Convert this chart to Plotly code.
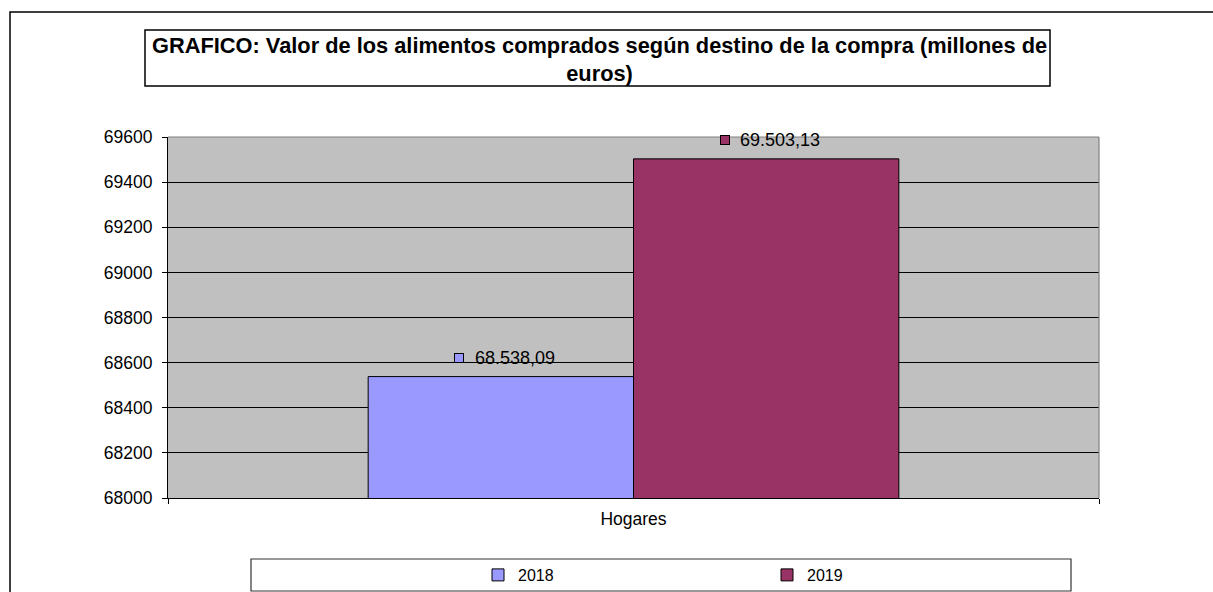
import plotly.graph_objects as go

# ---- data ----
categories = ["Hogares"]
years = ["2018", "2019"]
values_2018 = [68538.09]
values_2019 = [69503.13]
series_values = [values_2018, values_2019]
colors = ["#9999FF", "#993366"]
y_range = [68000, 69600]
y_dtick = 200
title_text = ("GRAFICO: Valor de los alimentos comprados según destino de la compra (millones de"
              "<br>euros)")

FONT = "Liberation Sans, Arial, sans-serif"
W, H = 1213, 592
ML, MR, MT, MB = 168, 114, 137, 94
PW, PH = W - ML - MR, H - MT - MB
bargap = 0.43


def px_x(p):
    return (p - ML) / PW


def px_y(p):
    return (H - MB - p) / PH


def es_fmt(v):
    s = f"{v:,.2f}"
    return s.replace(",", "X").replace(".", ",").replace("X", ".")


fig = go.Figure()
for name, vals, col in zip(years, series_values, colors):
    fig.add_trace(go.Bar(
        x=categories, y=vals, name=name,
        marker=dict(color=col, line=dict(color="#000000", width=1)),
        hoverinfo="skip",
    ))

annotations = []
shapes = []
# data labels with legend key
n = len(years)
slot = (1 - bargap) / n
for i, (vals, col) in enumerate(zip(series_values, colors)):
    for j, v in enumerate(vals):
        xc = j - (1 - bargap) / 2 + slot * (i + 0.5)
        annotations.append(dict(
            x=xc, y=v, xref="x", yref="y", text=" ", showarrow=False,
            xanchor="center", yanchor="middle", xshift=-41.5, yshift=18.5,
            width=8, height=8, borderpad=0, borderwidth=1,
            bordercolor="#000000", bgcolor=col, font=dict(size=6),
        ))
        annotations.append(dict(
            x=xc, y=v, xref="x", yref="y", text=es_fmt(v), showarrow=False,
            xanchor="left", yanchor="middle", xshift=-28, yshift=18.5,
            font=dict(family=FONT, size=18, color="#000000"),
        ))

# title
annotations.append(dict(
    x=px_x(599), y=px_y(59.5), xref="paper", yref="paper",
    text="<b>" + title_text + "</b>", showarrow=False,
    xanchor="center", yanchor="middle", align="center",
    font=dict(family=FONT, size=21.8, color="#000000"),
))

# outer chart border
shapes.append(dict(type="rect", xref="paper", yref="paper",
                   x0=px_x(10), x1=px_x(1230), y0=px_y(12), y1=px_y(620),
                   line=dict(color="#000000", width=1.5), layer="below"))
# title box
shapes.append(dict(type="rect", xref="paper", yref="paper",
                   x0=px_x(145), x1=px_x(1050), y0=px_y(30), y1=px_y(86),
                   line=dict(color="#000000", width=1.5), layer="below"))
# legend box
shapes.append(dict(type="rect", xref="paper", yref="paper",
                   x0=px_x(251), x1=px_x(1071), y0=px_y(559), y1=px_y(591),
                   line=dict(color="#333333", width=1.2), layer="below"))
# plot area top/right border (gray)
shapes.append(dict(type="line", xref="paper", yref="paper",
                   x0=0, x1=1, y0=1, y1=1,
                   line=dict(color="#808080", width=1.2), layer="above"))
shapes.append(dict(type="line", xref="paper", yref="paper",
                   x0=1, x1=1, y0=0, y1=1,
                   line=dict(color="#808080", width=1.2), layer="above"))

fig.update_layout(
    width=W, height=H, autosize=False,
    margin=dict(l=ML, r=MR, t=MT, b=MB, autoexpand=False),
    paper_bgcolor="#FFFFFF", plot_bgcolor="#C0C0C0",
    barmode="group", bargap=bargap, bargroupgap=0,
    font=dict(family=FONT, color="#000000"),
    showlegend=True,
    legend=dict(orientation="h", x=px_x(478), y=px_y(575),
                xanchor="left", yanchor="middle",
                bgcolor="rgba(0,0,0,0)", borderwidth=0,
                font=dict(family=FONT, size=16, color="#000000"),
                entrywidth=244, entrywidthmode="pixels",
                traceorder="normal"),
    annotations=annotations, shapes=shapes,
    xaxis=dict(type="category", showline=True, linecolor="#000000", linewidth=1.2,
               ticks="outside", tickson="boundaries", ticklen=5, tickcolor="#000000",
               showgrid=False, tickfont=dict(family=FONT, size=17.5, color="#000000"),
               ticklabelstandoff=5, fixedrange=True),
    yaxis=dict(range=y_range, dtick=y_dtick, tick0=y_range[0],
               showline=True, linecolor="#000000", linewidth=1.2,
               ticks="outside", ticklen=5, tickcolor="#000000",
               showgrid=True, gridcolor="#000000", gridwidth=1,
               zeroline=False, tickformat="d",
               tickfont=dict(family=FONT, size=17.5, color="#000000"),
               ticklabelstandoff=6, fixedrange=True),
)

post = ("document.body.style.margin='0px';document.body.style.padding='0px';"
        "document.body.style.overflow='hidden';")
fig.write_html("out.html", config={"responsive": False, "displayModeBar": False},
               post_script=post)
